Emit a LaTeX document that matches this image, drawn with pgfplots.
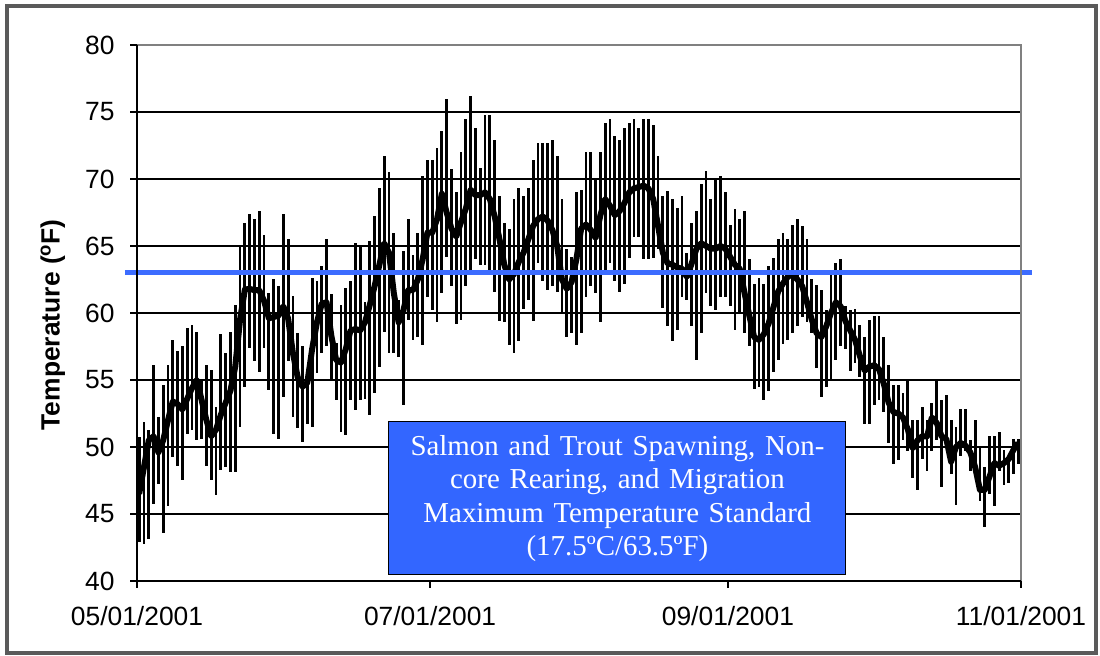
\documentclass[border=0pt]{standalone}
\usepackage{fontspec}
\setmainfont{Liberation Sans}
\newfontfamily\timesfont{Liberation Serif}
\usepackage{pgfplots}
\usepackage{pgfplotstable}
\pgfplotsset{compat=1.18}
\definecolor{boxblue}{RGB}{51,102,255}
\definecolor{lineblue}{RGB}{60,108,255}
\definecolor{framegray}{RGB}{90,90,90}

\pgfplotstableread{
d lo hi mean
0 42.9 50.75 46.5
1 42.75 51.9 48.5
2 43.1 51.25 50.5
3 45.75 56.1 50.8
4 47.25 52.25 49.6
5 43.6 54.6 50.5
6 45.6 56.1 52
7 49.25 58 53.4
8 48.6 57.2 53.2
9 47.5 57.5 52.8
10 51 58.9 53.6
11 51.25 59.1 54.4
12 50.5 58.6 55
13 50.6 55 53.5
14 48.6 56.1 52
15 47.5 55.75 50.8
16 46.4 53 51.3
17 48.25 58.4 52.4
18 48.5 57 53.3
19 48.1 58.6 54.2
20 48.1 60.6 56
21 51.5 65 59.5
22 54.5 66.75 61.75
23 57.4 67.4 61.8
24 56.4 67 61.7
25 55.6 67.6 61.7
26 57.4 65.8 60.9
27 54.25 61.5 59.6
28 51 62.5 59.7
29 50.6 62 59.8
30 53.75 67.4 60.5
31 56.4 65.5 59.6
32 52.25 61.25 57
33 51.4 58.5 55.2
34 50.4 57.5 54.5
35 51.75 55.75 54.8
36 51.5 62.6 57.3
37 55.5 62.4 59.3
38 57 63.5 60.7
39 57.5 65.5 60.8
40 55 61.4 58.3
41 53.5 57.75 56.5
42 51.1 60.6 56.3
43 50.9 61.9 57.3
44 53.5 62.4 58.7
45 52.75 65.25 58.8
46 53.5 65 58.7
47 53.6 60.8 59.3
48 52.4 65.4 60.6
49 54 67.25 62
50 56 69.3 63.6
51 58.6 71.7 65.2
52 57 70.5 64.5
53 57 66 61.5
54 56.7 61 59.3
55 53.1 64.6 60.2
56 59.5 67 61.7
57 58 64.3 61.7
58 58.2 66 62.5
59 57.6 70.2 64
60 61.2 71.4 66
61 60.2 71.4 66
62 59.3 72.3 67
63 61.5 73.6 68.9
64 64.2 76 67.5
65 62 70.75 66.3
66 59.2 69 65.7
67 59.5 72 66.8
68 62 74.5 67.8
69 63 76.2 69.2
70 64 73.8 68.8
71 63.6 70.8 68.8
72 63.6 74.75 69
73 62.8 74.75 68.5
74 61.6 72.9 67.2
75 59.4 68.7 65.5
76 59.3 66.7 63.6
77 57.6 66.3 62.5
78 57 68.5 62.9
79 57.9 69.3 63.8
80 60.3 68.7 64.5
81 61 69.3 65.5
82 59.4 71.4 66.5
83 63.7 72.7 67
84 62.4 72.7 67.2
85 61.7 72.7 66.9
86 62 72.9 66.2
87 61.6 71.75 65
88 60 68.5 62.5
89 58.2 64.8 61.8
90 58.5 64.2 62.3
91 57.6 69 64
92 58.5 69.2 66.3
93 61.2 72 66.6
94 62 72 66.2
95 61.5 70 65.6
96 59.3 72 67.3
97 63 74.2 68.5
98 63.7 74.5 68
99 62.4 73.2 67.3
100 61.6 72.9 67.6
101 62.2 73.8 68.2
102 64.1 74.2 69
103 65.7 74.5 69.3
104 65.7 73.8 69.4
105 64 74.5 69.5
106 64 74.5 69.3
107 64.1 74 68.5
108 64.8 71.7 66.5
109 60.4 68.7 64.5
110 59 69.1 63.7
111 57.9 68.5 63.6
112 58.7 67.8 63.4
113 61.2 68.7 63.3
114 61 64.5 62.7
115 59 66.7 63.7
116 56.5 67.6 64.8
117 58.5 69.6 65.2
118 61.5 70.6 65
119 60.5 68.5 64.8
120 60.2 70 64.8
121 61.2 70.2 65
122 61.2 69 64.8
123 60.5 66.6 64.2
124 58.7 67.75 63.6
125 60 67 63.3
126 58.5 67.6 61.5
127 57.5 64 59.8
128 54.3 62.2 58.2
129 54.5 62.6 58
130 53.5 62.2 58.4
131 54.2 63.5 59.2
132 55.6 64.1 60.4
133 56.5 65.5 61.6
134 57.7 66 62.2
135 58 65.5 62.7
136 58.5 66.6 62.9
137 59 67 62.5
138 59.7 66.5 62
139 59.3 65.5 60.8
140 58.5 62.5 59.5
141 55.9 62.1 58.5
142 53.7 61.7 58.2
143 54.5 60.2 59
144 55 63 60
145 56.5 63.7 60.8
146 57.5 64 60.5
147 57.3 60.5 59.4
148 55.7 60.2 58.7
149 56.3 60.3 58
150 55.2 59.1 56.8
151 51.7 58.2 55.7
152 51.7 59.5 56
153 53.1 59.8 56.1
154 53.5 59.75 55.8
155 52.6 58.2 54.7
156 50.3 56.1 53.3
157 48.7 54.6 52.6
158 49 54.6 52.5
159 50.5 54 52.2
160 49.7 54.9 51.3
161 47.7 52 49.9
162 46.8 52 50.5
163 49.1 53 50.8
164 48.2 52 50.8
165 49.7 53.3 52.2
166 50.5 54.9 51.8
167 47 53.5 50.8
168 50 53.9 50.6
169 48 52 48.9
170 45.7 51.5 50
171 49.3 52.8 50.3
172 49.7 52.8 50.1
173 48.2 50.5 49.6
174 47.8 52 48.5
175 46 50 46.8
176 44 48.5 46.8
177 46.5 50.8 47.8
178 45.6 50.8 48.8
179 48.2 51.1 48.6
180 47.2 49.8 48.8
181 47.3 49.3 49.1
182 48 50.6 49.8
183 48.7 50.6 50.3
}\data

\begin{document}
\begin{tikzpicture}[x=1bp,y=1bp]
\useasboundingbox (0,0) rectangle (1100,656);
\draw[framegray, line width=4bp] (7,3) rectangle (1096,650);
\begin{axis}[
  at={(137bp,75bp)}, anchor=south west,
  width=884bp, height=536bp, scale only axis,
  xmin=0, xmax=184, ymin=40, ymax=80,
  clip=false,
  axis line style={draw=none},
  xtick={0,61,123,184},
  xticklabels={05/01/2001,07/01/2001,09/01/2001,11/01/2001},
  ytick={40,45,...,80},
  tick align=outside, tick pos=left,
  major tick length=7bp,
  tick style={black, line width=1.5bp},
  ymajorgrids, grid style={black, line width=1.5bp},
  /pgf/number format/assume math mode=true,
  ticklabel style={font=\fontsize{26.5}{30}\selectfont},
  yticklabel style={xshift=-12bp},
  xticklabel style={yshift=-15bp},
  ylabel={\bfseries Temperature (\textsuperscript{o}F)},
  ylabel style={at={(axis description cs:-0.0952,0.478)}, anchor=center, font=\fontsize{26.5}{30}\selectfont},
]
\addplot[draw=none, mark=none, forget plot,
  error bars/.cd, y dir=both, y explicit, error mark=none,
  error bar style={draw=black, line width=2.8bp}]
  table[x expr=\thisrow{d}+0.45, y=mean,
        y error plus expr=\thisrow{hi}-\thisrow{mean},
        y error minus expr=\thisrow{mean}-\thisrow{lo}] {\data};
\addplot[black, line width=6bp, line join=round, mark=none]
  table[x expr=\thisrow{d}+0.45, y=mean] {\data};
\addplot[lineblue, line width=5bp, mark=none] coordinates {(-2.5,63.05) (186.3,63.05)};
\node[fill=boxblue, draw=black, line width=1bp, minimum width=457bp, minimum height=153bp,
  text width=440bp, align=center, text=white, inner sep=0pt,
  font=\timesfont\fontsize{29}{33.5}\selectfont]
  at (axis cs:100,46.16) {Salmon and Trout Spawning, Non-\\core Rearing, and Migration\\Maximum Temperature Standard\\(17.5ºC/63.5ºF)};
\draw[gray, line width=1.5bp] (rel axis cs:0,1) -- (rel axis cs:1,1) -- (rel axis cs:1,0);
\draw[black, line width=2bp] (rel axis cs:0,1) -- (rel axis cs:0,0) -- (rel axis cs:1,0);
\end{axis}
\end{tikzpicture}
\end{document}
